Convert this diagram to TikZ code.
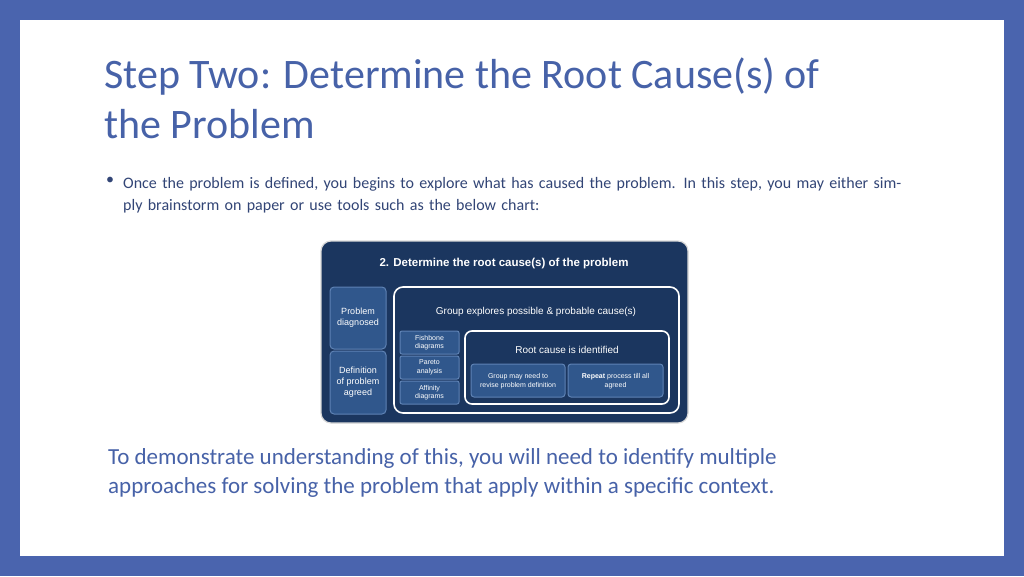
\documentclass[tikz,border=0pt]{standalone}
\usepackage{fontspec}
\setmainfont{Carlito}
\newfontfamily\arialf{Liberation Sans}
\definecolor{frameblue}{HTML}{4A64AE}
\definecolor{titleblue}{HTML}{4762A8}
\definecolor{navy}{HTML}{1B365F}
\definecolor{midblue}{HTML}{30578C}
\definecolor{edgeblue}{HTML}{5E82B4}
\begin{document}
\begin{tikzpicture}[x=1pt,y=-1pt,
  cbox/.style={draw=edgeblue,line width=1pt,fill=midblue,rounded corners=4pt},
  wbox/.style={draw=white,line width=1.6pt,rounded corners=9pt},
  ctext/.style={text=white,font=\arialf,align=center,inner sep=0pt}]
\useasboundingbox (0,0) rectangle (1024,576);
\fill[frameblue] (0,0) rectangle (1024,576);
\fill[white] (20,20) rectangle (1004,556);
\node[anchor=north west,text=titleblue,font=\fontsize{42}{50}\selectfont,align=left,inner sep=0pt] (title) at (104,58) {Step Two: Determine the Root Cause(s) of\\the Problem};
\node[anchor=north west,text=titleblue!70!black,font=\fontsize{16}{22}\selectfont,align=left,inner sep=0pt,text width=790pt] (bullet) at (123,177) {Once the problem is defined, you begins to explore what has caused the problem. In this step, you may either simply brainstorm on paper or use tools such as the below chart:};
\node[anchor=north west,text=titleblue!70!black,font=\fontsize{16}{22}\selectfont,inner sep=0pt] (dot) at (106,177) {•};
\node[anchor=north west,text=titleblue,font=\fontsize{23}{29}\selectfont,align=left,inner sep=0pt] (bottom) at (108,448) {To demonstrate understanding of this, you will need to identify multiple\\approaches for solving the problem that apply within a specific context.};
% chart
\draw[fill=navy,draw=gray!30,line width=1.2pt,rounded corners=10pt] (321,241) rectangle (688,423);
\node[ctext,font=\arialf\bfseries\fontsize{11.5}{13}\selectfont] (ct) at (504,264) {2. Determine the root cause(s) of the problem};
\draw[cbox] (330,287) rectangle (386,349);
\node[ctext,font=\arialf\fontsize{9}{11}\selectfont] (pd) at (358,318) {Problem\\diagnosed};
\draw[cbox] (330,351) rectangle (386,414);
\node[ctext,font=\arialf\fontsize{9}{11}\selectfont] (dp) at (358,382) {Definition\\of problem\\agreed};
\draw[wbox] (394,287) rectangle (679,413);
\node[ctext,font=\arialf\fontsize{10}{12}\selectfont] (ge) at (536,312) {Group explores possible \& probable cause(s)};
\draw[cbox,rounded corners=2pt] (400,331) rectangle (459,354);
\node[ctext,font=\arialf\fontsize{7}{8.5}\selectfont] (fb) at (429.5,342.5) {Fishbone\\diagrams};
\draw[cbox,rounded corners=2pt] (400,356) rectangle (459,379);
\node[ctext,font=\arialf\fontsize{7}{8.5}\selectfont] (pa) at (429.5,367.5) {Pareto\\analysis};
\draw[cbox,rounded corners=2pt] (400,381) rectangle (459,404);
\node[ctext,font=\arialf\fontsize{7}{8.5}\selectfont] (ad) at (429.5,392.5) {Affinity\\diagrams};
\draw[wbox,rounded corners=7pt] (465,331) rectangle (669,404);
\node[ctext,font=\arialf\fontsize{10}{12}\selectfont] (rc) at (567,350) {Root cause is identified};
\draw[cbox,rounded corners=3pt] (471,364) rectangle (565,397);
\node[ctext,font=\arialf\fontsize{7}{9}\selectfont] (gm) at (518,381) {Group may need to\\revise problem definition};
\draw[cbox,rounded corners=3pt] (568,364) rectangle (663,397);
\node[ctext,font=\arialf\fontsize{7}{9}\selectfont] (rp) at (615.5,381) {\textbf{Repeat} process till all\\agreed};
\end{tikzpicture}
\end{document}
